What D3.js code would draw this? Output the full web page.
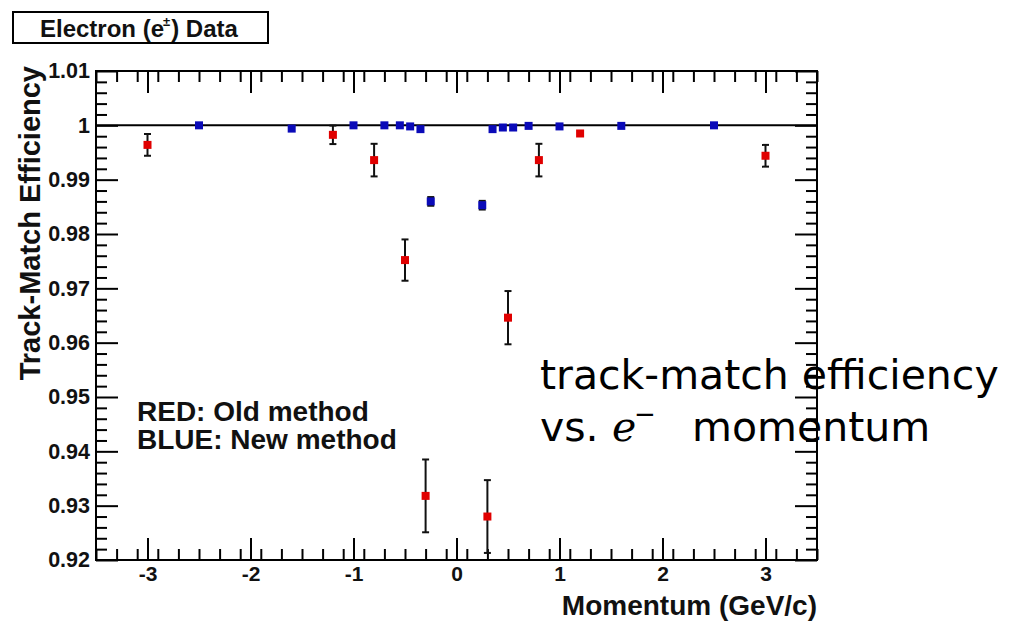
<!DOCTYPE html>
<html><head><meta charset="utf-8">
<script src="https://cdn.jsdelivr.net/npm/d3@7"></script>
<style>body{margin:0;background:#fff}svg{display:block}</style>
</head><body><svg id="c" width="1010" height="622"></svg>
<script>
// ---- data ----
const xTickValues = [-3, -2, -1, 0, 1, 2, 3];
const xTickLabels = ["-3", "-2", "-1", "0", "1", "2", "3"];
const yTickValues = [0.92, 0.93, 0.94, 0.95, 0.96, 0.97, 0.98, 0.99, 1.00, 1.01];
const yTickLabels = ["0.92", "0.93", "0.94", "0.95", "0.96", "0.97", "0.98", "0.99", "1", "1.01"];

// RED: old method
const redP   = [-3.0, -1.2, -0.8, -0.5, -0.3, 0.3, 0.5, 0.8, 1.2, 3.0];
const redEff = [0.9964, 0.99825, 0.9936, 0.9752, 0.9318, 0.9280, 0.9646, 0.9936, 0.9985, 0.9944];
const redErr = [0.0020, 0.0017, 0.0030, 0.0038, 0.0067, 0.0067, 0.0049, 0.0030, 0.0, 0.0020];

// BLUE: new method
const blueP   = [-2.5, -1.6, -1.0, -0.7, -0.55, -0.45, -0.35, -0.25, 0.25, 0.35, 0.45, 0.55, 0.7, 1.0, 1.6, 2.5];
const blueEff = [1.0000, 0.9994, 1.0000, 1.0000, 1.0000, 0.9998, 0.9993, 0.9860, 0.9853, 0.9993, 0.9996, 0.9996, 0.9999, 0.9998, 0.9999, 1.0000];
const blueErr = [0, 0, 0, 0, 0, 0, 0, 0.0008, 0.0008, 0, 0, 0, 0, 0, 0, 0];

const xDomain = [-3.5, 3.5];
const yDomain = [0.92, 1.01];
const refLine = 1.0;

// ---- layout ----
const svg = d3.select("#c");
const L = 96, R = 817, T = 71, B = 560;
const x = d3.scaleLinear().domain(xDomain).range([L, R]);
const y = d3.scaleLinear().domain(yDomain).range([B, T]);
const bold = "'Liberation Sans', Arial, Helvetica, sans-serif";

svg.append("rect").attr("width", 1010).attr("height", 622).attr("fill", "#fff");

// overlay text (drawn under the frame)
const ov = svg.append("g").attr("font-family", "'DejaVu Sans', sans-serif").attr("font-size", 41).attr("fill", "#000");
ov.append("text").attr("x", 540).attr("y", 389).text("track-match efficiency");
ov.append("text").attr("x", 540).attr("y", 441).text("vs.");
ov.append("text").attr("x", 612).attr("y", 441).attr("font-family", "'DejaVu Serif', serif").attr("font-style", "italic").text("e");
ov.append("text").attr("x", 634).attr("y", 423).attr("font-size", 26).text("\u2212");
ov.append("text").attr("x", 692).attr("y", 441).text("momentum");

// minor tick values
const xMinor = d3.range(-35, 36, 2).map(v => v / 10).filter(v => !xTickValues.some(t => Math.abs(t - v) < 1e-9));
const yMinor = d3.range(460, 506, 1).map(v => v / 500).filter(v => v >= yDomain[0] - 1e-9 && v <= yDomain[1] + 1e-9 && !yTickValues.some(t => Math.abs(t - v) < 1e-9));

function styleAxis(g) {
  g.select(".domain").remove();
  g.selectAll(".tick line").attr("stroke", "#000").attr("stroke-width", 2);
  g.selectAll("text").attr("font-family", bold).attr("font-weight", "bold").attr("fill", "#111");
}

// bottom axis
svg.append("g").attr("transform", `translate(0,${B})`)
  .call(d3.axisBottom(x).tickValues(xTickValues).tickSize(-22).tickPadding(6).tickFormat((d, i) => xTickLabels[i]))
  .call(styleAxis).selectAll("text").attr("font-size", 21);
svg.append("g").attr("transform", `translate(0,${B})`)
  .call(d3.axisBottom(x).tickValues(xMinor).tickSize(-11).tickFormat(""))
  .call(styleAxis);
// top axis
svg.append("g").attr("transform", `translate(0,${T})`)
  .call(d3.axisTop(x).tickValues(xTickValues).tickSize(-22).tickFormat(""))
  .call(styleAxis);
svg.append("g").attr("transform", `translate(0,${T})`)
  .call(d3.axisTop(x).tickValues(xMinor).tickSize(-11).tickFormat(""))
  .call(styleAxis);
// left axis
svg.append("g").attr("transform", `translate(${L},0)`)
  .call(d3.axisLeft(y).tickValues(yTickValues).tickSize(-22).tickPadding(6).tickFormat((d, i) => yTickLabels[i]))
  .call(styleAxis).selectAll("text").attr("font-size", 21.5);
svg.append("g").attr("transform", `translate(${L},0)`)
  .call(d3.axisLeft(y).tickValues(yMinor).tickSize(-11).tickFormat(""))
  .call(styleAxis);
// right axis
svg.append("g").attr("transform", `translate(${R},0)`)
  .call(d3.axisRight(y).tickValues(yTickValues).tickSize(-22).tickFormat(""))
  .call(styleAxis);
svg.append("g").attr("transform", `translate(${R},0)`)
  .call(d3.axisRight(y).tickValues(yMinor).tickSize(-11).tickFormat(""))
  .call(styleAxis);

// frame
svg.append("rect").attr("x", L).attr("y", T).attr("width", R - L).attr("height", B - T)
  .attr("fill", "none").attr("stroke", "#000").attr("stroke-width", 2);

// reference line at 1
svg.append("line").attr("x1", L).attr("x2", R).attr("y1", y(refLine)).attr("y2", y(refLine))
  .attr("stroke", "#000").attr("stroke-width", 2);

// error bars + markers
function drawSeries(px, py, pe, color, size) {
  const data = px.map((p, i) => ({ p, v: py[i], e: pe[i] }));
  const g = svg.append("g");
  const eb = g.selectAll(".eb").data(data.filter(d => d.e > 0)).join("g");
  eb.append("line").attr("x1", d => x(d.p)).attr("x2", d => x(d.p))
    .attr("y1", d => y(d.v - d.e)).attr("y2", d => y(d.v + d.e)).attr("stroke", "#111").attr("stroke-width", 2);
  eb.append("line").attr("x1", d => x(d.p) - 3.5).attr("x2", d => x(d.p) + 3.5)
    .attr("y1", d => y(d.v - d.e)).attr("y2", d => y(d.v - d.e)).attr("stroke", "#111").attr("stroke-width", 2);
  eb.append("line").attr("x1", d => x(d.p) - 3.5).attr("x2", d => x(d.p) + 3.5)
    .attr("y1", d => y(d.v + d.e)).attr("y2", d => y(d.v + d.e)).attr("stroke", "#111").attr("stroke-width", 2);
  g.selectAll("rect").data(data).join("rect")
    .attr("x", d => x(d.p) - size / 2).attr("y", d => y(d.v) - size / 2)
    .attr("width", size).attr("height", size).attr("fill", color);
}
drawSeries(redP, redEff, redErr, "#e00000", 8);
drawSeries(blueP, blueEff, blueErr, "#0a0ab8", 8);

// legend text
const lg = svg.append("g").attr("font-family", bold).attr("font-weight", "bold").attr("font-size", 28).attr("fill", "#111");
lg.append("text").attr("x", 137).attr("y", 421).text("RED: Old method");
lg.append("text").attr("x", 137).attr("y", 449).text("BLUE: New method");

// axis titles
svg.append("text").attr("x", R).attr("y", 615).attr("text-anchor", "end")
  .attr("font-family", bold).attr("font-weight", "bold").attr("font-size", 28).attr("fill", "#111")
  .text("Momentum (GeV/c)");
svg.append("text").attr("transform", "translate(40,66) rotate(-90)").attr("text-anchor", "end")
  .attr("font-family", bold).attr("font-weight", "bold").attr("font-size", 29).attr("fill", "#111")
  .text("Track-Match Efficiency");

// title box
svg.append("rect").attr("x", 13).attr("y", 12).attr("width", 255).attr("height", 31)
  .attr("fill", "#fff").attr("stroke", "#000").attr("stroke-width", 2);
const tt = svg.append("text").attr("x", 40).attr("y", 37).attr("font-family", bold).attr("font-weight", "bold")
  .attr("font-size", 24).attr("fill", "#111");
tt.append("tspan").text("Electron (e");
tt.append("tspan").attr("font-size", 13).attr("dy", -11).attr("dx", -1).text("\u00b1");
tt.append("tspan").attr("dy", 11).attr("dx", 1).text(") Data");
</script>
</body></html>
